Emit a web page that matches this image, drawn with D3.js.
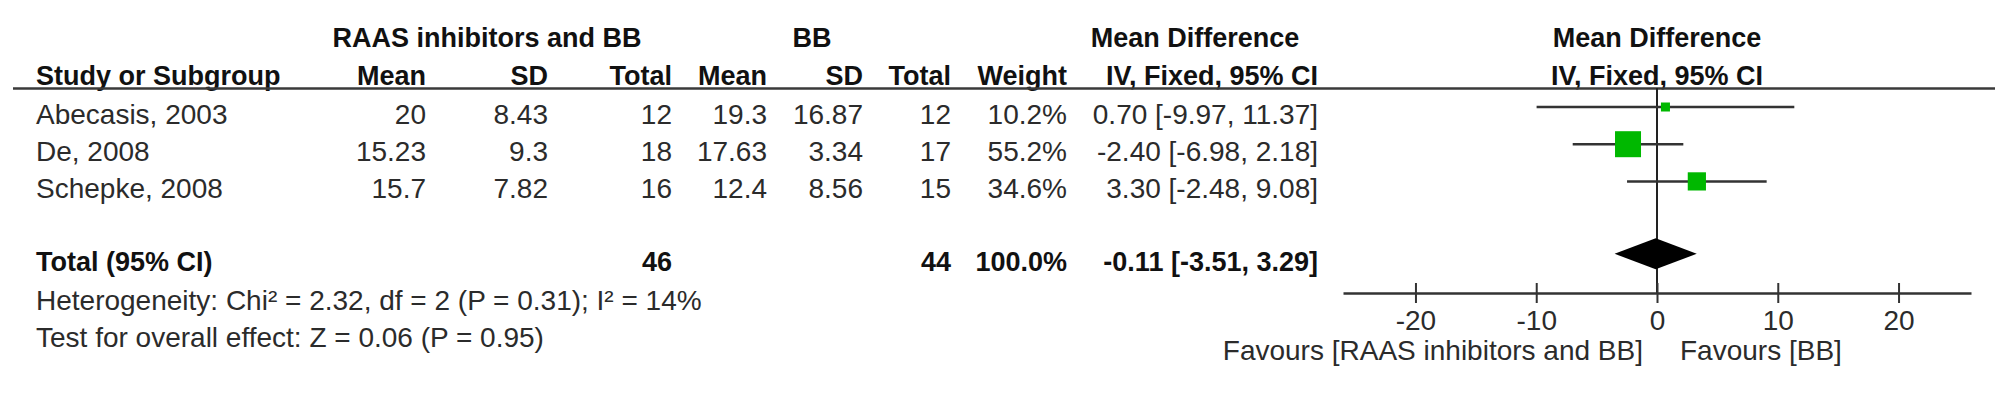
<!DOCTYPE html>
<html>
<head>
<meta charset="utf-8">
<script src="https://cdn.jsdelivr.net/npm/d3@7"></script>
<style>
  body { margin: 0; background: #fff; }
  svg { display: block; font-family: "Liberation Sans", Arial, sans-serif; }
</style>
</head>
<body>
<div id="chart"></div>
<script>
// study rows
var studies = ["Abecasis, 2003", "De, 2008", "Schepke, 2008"];
var raasMean = ["20", "15.23", "15.7"];
var raasSD = ["8.43", "9.3", "7.82"];
var raasN = [12, 18, 16];
var bbMean = ["19.3", "17.63", "12.4"];
var bbSD = ["16.87", "3.34", "8.56"];
var bbN = [12, 17, 15];
var weights = [10.2, 55.2, 34.6];
var md = [0.70, -2.40, 3.30];
var ciLow = [-9.97, -6.98, -2.48];
var ciHigh = [11.37, 2.18, 9.08];

// pooled
var totalN = [46, 44];
var totalMd = -0.11, totalLow = -3.51, totalHigh = 3.29;
var heterogeneity = "Heterogeneity: Chi\u00b2 = 2.32, df = 2 (P = 0.31); I\u00b2 = 14%";
var overallEffect = "Test for overall effect: Z = 0.06 (P = 0.95)";

var tickVals = [-20, -10, 0, 10, 20];
var favours = ["Favours [RAAS inhibitors and BB]", "Favours [BB]"];

var W = 2008, H = 396;
var svg = d3.select("#chart").append("svg")
    .attr("width", W)
    .attr("height", H);
svg.append("rect").attr("width", W).attr("height", H).attr("fill", "#fff");

var fs = 28, fsBold = 27;
var ink = "#2b2b2b", inkBold = "#111";

// row baselines
var rowY = d3.scaleLinear().domain([0, 1]).range([124, 161.2]);
var x = d3.scaleLinear().domain([-26, 26]).range([1343, 1971]);
var side = d3.scaleLinear().domain(d3.extent(weights)).range([9, 26]);

function fmt2(v) { return v.toFixed(2); }
function ciText(m, l, h) { return fmt2(m) + " [" + fmt2(l) + ", " + fmt2(h) + "]"; }

function label(txt, px, py, anchor, bold) {
    return svg.append("text")
        .attr("x", px)
        .attr("y", py)
        .attr("text-anchor", anchor || "start")
        .attr("font-size", bold ? fsBold : fs)
        .attr("font-weight", bold ? "bold" : "normal")
        .attr("fill", bold ? inkBold : ink)
        .text(txt);
}

// column right edges of the table
var col = {study: 36, rMean: 426, rSD: 548, rN: 672, bMean: 767, bSD: 863, bN: 951, wt: 1067, ci: 1318};

// headers
label("RAAS inhibitors and BB", 487, 47, "middle", true);
label("BB", 812, 47, "middle", true);
label("Mean Difference", 1195, 47, "middle", true);
label("Mean Difference", x(0), 47, "middle", true);

label("Study or Subgroup", col.study, 85, "start", true);
label("Mean", col.rMean, 85, "end", true);
label("SD", col.rSD, 85, "end", true);
label("Total", col.rN, 85, "end", true);
label("Mean", col.bMean, 85, "end", true);
label("SD", col.bSD, 85, "end", true);
label("Total", col.bN, 85, "end", true);
label("Weight", col.wt, 85, "end", true);
label("IV, Fixed, 95% CI", col.ci, 85, "end", true);
label("IV, Fixed, 95% CI", x(0), 85, "middle", true);

svg.append("line")
    .attr("x1", 13).attr("x2", 1995)
    .attr("y1", 88.5).attr("y2", 88.5)
    .attr("stroke", "#3a3a3a").attr("stroke-width", 2.5);

// study rows
studies.forEach(function(s, i) {
    var by = rowY(i);
    label(s, col.study, by, "start");
    label(raasMean[i], col.rMean, by, "end");
    label(raasSD[i], col.rSD, by, "end");
    label(raasN[i], col.rN, by, "end");
    label(bbMean[i], col.bMean, by, "end");
    label(bbSD[i], col.bSD, by, "end");
    label(bbN[i], col.bN, by, "end");
    label(weights[i].toFixed(1) + "%", col.wt, by, "end");
    label(ciText(md[i], ciLow[i], ciHigh[i]), col.ci, by, "end");
});

// total rows
var totY = rowY(4) - 2;
label("Total (95% CI)", col.study, totY, "start", true);
label(totalN[0], col.rN, totY, "end", true);
label(totalN[1], col.bN, totY, "end", true);
label(d3.sum(weights).toFixed(1) + "%", col.wt, totY, "end", true);
label(ciText(totalMd, totalLow, totalHigh), col.ci, totY, "end", true);
label(heterogeneity, col.study, rowY(5), "start");
label(overallEffect, col.study, rowY(6), "start");

// forest plot
var axisY = 293;
var plot = svg.append("g");

plot.append("line")
    .attr("x1", x(0)).attr("x2", x(0))
    .attr("y1", 88).attr("y2", axisY)
    .attr("stroke", "#222").attr("stroke-width", 2);

plot.selectAll("line.ci")
    .data(studies)
    .enter().append("line")
    .attr("class", "ci")
    .attr("x1", function(d, i) { return x(ciLow[i]); })
    .attr("x2", function(d, i) { return x(ciHigh[i]); })
    .attr("y1", function(d, i) { return rowY(i) - 17; })
    .attr("y2", function(d, i) { return rowY(i) - 17; })
    .attr("stroke", "#333").attr("stroke-width", 2.5);

plot.selectAll("rect.box")
    .data(studies)
    .enter().append("rect")
    .attr("class", "box")
    .attr("x", function(d, i) { return x(md[i]) - side(weights[i]) / 2; })
    .attr("y", function(d, i) { return rowY(i) - 17 - side(weights[i]) / 2; })
    .attr("width", function(d, i) { return side(weights[i]); })
    .attr("height", function(d, i) { return side(weights[i]); })
    .attr("fill", "#00b800");

var dy = totY - 17, dh = 15.5;
plot.append("path")
    .attr("d", "M" + x(totalLow) + "," + dy +
               "L" + x(totalMd) + "," + (dy - dh) +
               "L" + x(totalHigh) + "," + dy +
               "L" + x(totalMd) + "," + (dy + dh) + "Z")
    .attr("fill", "#000");

var axis = plot.append("g")
    .attr("transform", "translate(0," + axisY + ")")
    .call(d3.axisBottom(x).tickValues(tickVals).tickSize(10).tickSizeOuter(0)
        .tickFormat(function(d) { return String(d); }));
axis.select(".domain").attr("stroke", "#333").attr("stroke-width", 2.5);
axis.selectAll(".tick line").attr("y1", -10).attr("stroke", "#333").attr("stroke-width", 2);
axis.selectAll(".tick text")
    .attr("y", 37).attr("dy", null)
    .attr("font-size", fs).attr("font-family", "Liberation Sans, Arial, sans-serif")
    .attr("fill", ink);

label(favours[0], x(0) - 14, 360, "end");
label(favours[1], x(0) + 23, 360, "start");
</script>
</body>
</html>
